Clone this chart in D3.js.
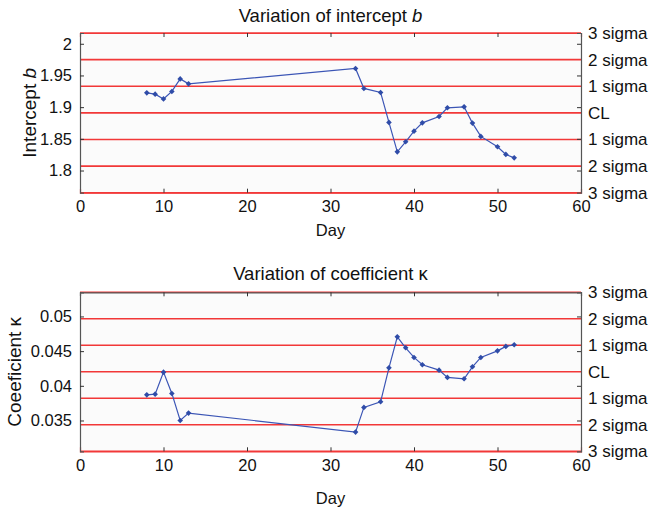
<!DOCTYPE html>
<html><head><meta charset="utf-8">
<script src="https://cdn.jsdelivr.net/npm/d3@7"></script>
<style>
body{margin:0;background:#fff;}
text{font-family:"Liberation Sans",Arial,sans-serif;fill:#111;}
</style></head>
<body>
<svg id="c" width="653" height="513"></svg>
<script>
const days = [8,9,10,11,12,13,33,34,36,37,38,39,40,41,43,44,46,47,48,50,51,52];
const interceptB = [1.9226,1.9205,1.913,1.9248,1.9446,1.9368,1.961,1.9295,1.9232,1.8759,1.8295,1.8453,1.8621,1.8752,1.8853,1.899,1.9005,1.8748,1.8538,1.8374,1.8254,1.820];
const coefK = [0.0387,0.0388,0.04197,0.0389,0.0350,0.03607,0.03333,0.03689,0.0377,0.04259,0.04706,0.04548,0.04409,0.04303,0.04226,0.04121,0.04101,0.04274,0.04409,0.04504,0.04568,0.04591];
const clB = 1.891, sigmaB = 0.042;
const clK = 0.04202, sigmaK = 0.00382;
const xTicks = [0,10,20,30,40,50,60];
const yTicksB = [1.8,1.85,1.9,1.95,2];
const yTicksK = [0.035,0.04,0.045,0.05];
const sigmaLabels = ["3 sigma","2 sigma","1 sigma","CL","1 sigma","2 sigma","3 sigma"];
const sigmaSteps = [3,2,1,0,-1,-2,-3];

const svg = d3.select("#c");
const L = 80, R = 581;

function panel(cfg){
  const g = svg.append("g");
  const x = d3.scaleLinear().domain([0,60]).range([L,R]);
  const y = d3.scaleLinear().domain([cfg.cl-3*cfg.sigma, cfg.cl+3*cfg.sigma]).range([cfg.bottom,cfg.top]);
  g.append("rect").attr("x",L).attr("y",cfg.top).attr("width",R-L).attr("height",cfg.bottom-cfg.top).attr("fill","#fbfbfb");
  g.selectAll(".cl").data(sigmaSteps).enter().append("line")
    .attr("x1",L).attr("x2",R)
    .attr("y1",d=>y(cfg.cl+d*cfg.sigma)).attr("y2",d=>y(cfg.cl+d*cfg.sigma))
    .attr("stroke","#f23838").attr("stroke-width",1.6);
  const ax = g.append("g").attr("transform",`translate(0,${cfg.bottom})`)
    .call(d3.axisBottom(x).tickValues(xTicks).tickSize(-4).tickPadding(8).tickFormat(d3.format("d")));
  const axT = g.append("g").attr("transform",`translate(0,${cfg.top})`)
    .call(d3.axisTop(x).tickValues(xTicks).tickSize(-4).tickFormat(""));
  const ay = g.append("g").attr("transform",`translate(${L},0)`)
    .call(d3.axisLeft(y).tickValues(cfg.yTicks).tickSize(-4).tickPadding(8).tickFormat(d3.format("~g")));
  const ayR = g.append("g").attr("transform",`translate(${R},0)`)
    .call(d3.axisRight(y).tickValues(cfg.yTicks).tickSize(-4).tickFormat(""));
  [ax,axT,ay,ayR].forEach(a=>{
    a.select(".domain").attr("stroke","#555").attr("stroke-width",1.2);
    a.selectAll(".tick line").attr("stroke","#333");
    a.selectAll(".tick text").attr("font-size",16.5).attr("fill","#111").attr("font-family","Liberation Sans, Arial, sans-serif");
  });
  ax.select(".domain").attr("stroke",cfg.bottomRed?"#f23838":"#555");
  axT.select(".domain").attr("stroke",cfg.topRed?"#f23838":"#555");
  g.selectAll(".sl").data(sigmaSteps).enter().append("text")
    .attr("x",R+7).attr("y",d=>y(cfg.cl+d*cfg.sigma)).attr("dy","0.35em")
    .attr("font-size",17).text((d,i)=>sigmaLabels[i]);
  const pts = days.map((d,i)=>[d,cfg.vals[i]]);
  g.append("path").datum(pts)
    .attr("d",d3.line().x(d=>x(d[0])).y(d=>y(d[1])))
    .attr("fill","none").attr("stroke","#3b55b5").attr("stroke-width",1.2);
  g.selectAll(".pt").data(pts).enter().append("path")
    .attr("transform",d=>`translate(${x(d[0])},${y(d[1])})`)
    .attr("d",d3.symbol().type(d3.symbolDiamond2).size(20))
    .attr("fill","#2f4ca8");
  const t = g.append("text").attr("x",(L+R)/2).attr("y",cfg.titleY).attr("text-anchor","middle").attr("font-size",18.5);
  t.append("tspan").text(cfg.title);
  t.append("tspan").attr("font-style",cfg.italic?"italic":"normal").text(cfg.sym);
  g.append("text").attr("x",(L+R)/2).attr("y",cfg.xlabY).attr("text-anchor","middle").attr("font-size",16.5).text("Day");
  const yl = g.append("text").attr("transform",`translate(${cfg.ylabX},${(cfg.top+cfg.bottom)/2}) rotate(-90)`)
    .attr("text-anchor","middle").attr("font-size",19);
  yl.append("tspan").text(cfg.ylab);
  yl.append("tspan").attr("font-style",cfg.italic?"italic":"normal").text(cfg.sym);
}

panel({top:33,bottom:192.7,cl:clB,sigma:sigmaB,vals:interceptB,yTicks:yTicksB,
  title:"Variation of intercept ",sym:"b",italic:true,titleY:21.5,xlabY:236,ylab:"Intercept ",ylabX:35.5,topRed:true,bottomRed:true});
panel({top:292.3,bottom:451.3,cl:clK,sigma:sigmaK,vals:coefK,yTicks:yTicksK,
  title:"Variation of coefficient ",sym:"κ",italic:false,titleY:280,xlabY:504,ylab:"Coeeficient ",ylabX:21,topRed:false,bottomRed:true});
</script>
</body></html>
